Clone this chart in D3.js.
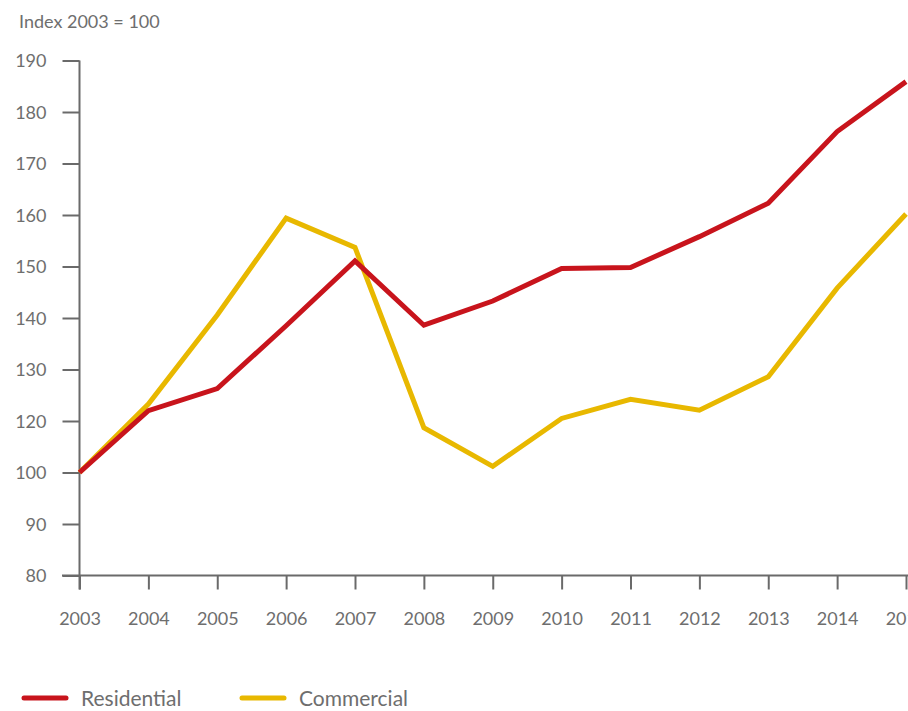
<!DOCTYPE html>
<html><head><meta charset="utf-8">
<script src="https://cdn.jsdelivr.net/npm/d3@7"></script>
<style>
html,body{margin:0;padding:0;background:#fff;}
svg{display:block;}
text{font-family:Lato,"Open Sans",sans-serif;fill:#6e6e6e;}
</style></head>
<body>
<svg id="chart" width="908" height="711"></svg>
<script>
const years = [2003,2004,2005,2006,2007,2008,2009,2010,2011,2012,2013,2014,2015];
const residential = [100,122,126.3,138.5,151.1,138.6,143.3,149.6,149.8,155.8,162.3,176.2,185.9];
const commercial  = [100,123.3,140.6,159.4,153.7,117.4,102.4,120.5,124.2,122.1,128.6,145.8,160.2];
const yTickValues = [80,90,100,120,130,140,150,160,170,180,190];
const yTitle = "Index 2003 = 100";
const seriesNames = ["Residential","Commercial"];
const seriesColors = ["#c8141c","#e8b800"];

(function(){
const svg = d3.select("#chart");
const plotTop = 60.5, plotBottom = 575.5, plotLeft = 79.5;
const step = (plotBottom - plotTop) / (yTickValues.length - 1);
// tick labels are evenly spaced (the original skips 110)
const y = d3.scaleLinear()
  .domain([80,100,120,190])
  .range([plotBottom, plotBottom - 2*step, plotBottom - 3*step, plotTop]);
const x = d3.scaleLinear().domain([2003,2015]).range([79.5, 906]);

// y axis
const yAxis = svg.append("g").attr("transform",`translate(${plotLeft},0)`)
  .call(d3.axisLeft(y).tickValues(yTickValues).tickSize(17).tickPadding(16).tickFormat(d3.format("d")));
yAxis.select(".domain").remove();
yAxis.append("line").attr("x1",0).attr("x2",0).attr("y1",plotTop).attr("y2",plotBottom+14)
  .attr("stroke","#6a6a6a").attr("stroke-width",2);
yAxis.selectAll(".tick line").attr("stroke","#6a6a6a").attr("stroke-width",2);
yAxis.selectAll(".tick text").style("font-size","18px").attr("fill","#6e6e6e").attr("dy","0.36em");

// x axis
const xAxis = svg.append("g").attr("transform",`translate(0,${plotBottom})`)
  .call(d3.axisBottom(x).tickValues(years).tickSize(14).tickPadding(23).tickFormat(d3.format("d")));
xAxis.select(".domain").remove();
xAxis.append("line").attr("x1",62).attr("x2",908).attr("y1",0).attr("y2",0)
  .attr("stroke","#6a6a6a").attr("stroke-width",2);
xAxis.selectAll(".tick line").attr("stroke","#6a6a6a").attr("stroke-width",2);
xAxis.selectAll(".tick text").style("font-size","18px").attr("fill","#6e6e6e");

// title
svg.append("text").attr("x",19).attr("y",28).style("font-size","18px").text(yTitle);

// lines (commercial drawn first, residential on top)
const line = d3.line().x((d,i)=>x(years[i])).y(d=>y(d));
[[commercial,1],[residential,0]].forEach(([s,idx])=>{
  svg.append("path").datum(s).attr("d",line).attr("fill","none")
    .attr("stroke",seriesColors[idx]).attr("stroke-width",5).attr("stroke-linejoin","miter");
});

// legend
const legendX = [24, 242];
seriesNames.forEach((n,i)=>{
  const g = svg.append("g").attr("transform",`translate(${legendX[i]},698)`);
  g.append("line").attr("x1",0).attr("x2",42).attr("y1",0).attr("y2",0)
    .attr("stroke",seriesColors[i]).attr("stroke-width",5).attr("stroke-linecap","round");
  g.append("text").attr("x",57).attr("y",0).attr("dy","0.36em").style("font-size","21px").text(n);
});
})();
</script>
</body></html>
